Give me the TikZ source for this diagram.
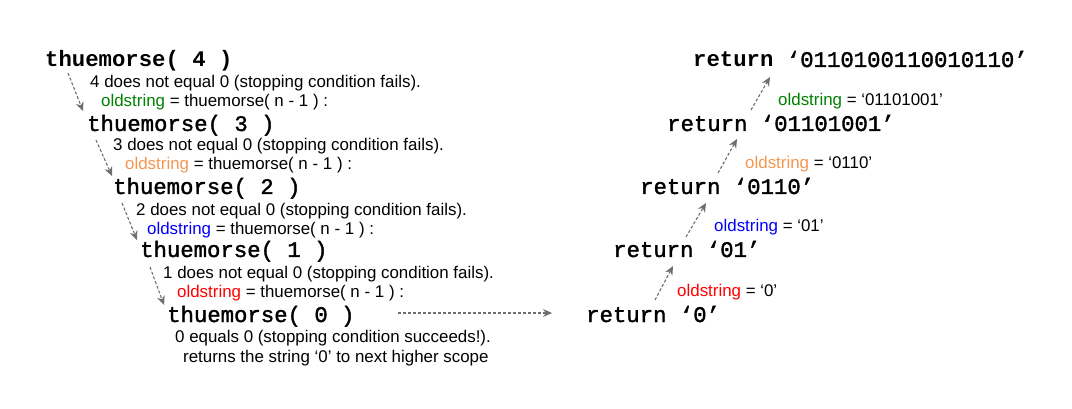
\documentclass[tikz,border=0pt]{standalone}
\usepackage{fontspec}
\setmainfont{Liberation Sans}
\newfontfamily\codefont{Liberation Mono}
\newfontfamily\codemid{Liberation Mono}[FakeBold=1.6]
\usetikzlibrary{arrows.meta}
\definecolor{oldgreen}{RGB}{0,128,0}
\definecolor{oldorange}{RGB}{245,150,80}
\definecolor{oldblue}{RGB}{0,0,255}
\definecolor{oldred}{RGB}{255,0,0}
\definecolor{arrowgray}{RGB}{110,110,110}
\begin{document}
\begin{tikzpicture}
[x=1pt,y=-1pt,
  calldecorate/.style={anchor=base west,inner sep=0pt,font=\fontsize{22.3}{26}\codemid},%
  topdecorate/.style={anchor=base west,inner sep=0pt,font=\fontsize{22.3}{26}\codefont\bfseries},%
  textdecorate/.style={anchor=base west,inner sep=0pt,font=\fontsize{16.9}{20}\selectfont},%
  arrowdecorate/.style={-{Stealth[length=9pt,width=8pt]},draw=arrowgray,
    line width=1.1pt,dash pattern=on 3pt off 2pt}]
\useasboundingbox (0,0) rectangle (1072,409);
%% recursive calls
\node (call4) at (45,67) [topdecorate] {thuemorse( 4 )};
\foreach \nodename/\x/\y/\n in {call3/87/131/3, call2/113/194/2,
  call1/140/257/1, call0/167/322/0} {
  \node (\nodename) at (\x,\y) [calldecorate] {thuemorse( \n{} )};
}
%% stopping condition checks
\foreach \nodename/\x/\y/\n in {fail4/90/88/4, fail3/113/151/3,
  fail2/136/216/2, fail1/163/278/1} {
  \node (\nodename) at (\x,\y) [textdecorate] {\n{} does not equal 0 (stopping condition fails).};
}
\foreach \nodename/\x/\y/\col in {old4/101/107/oldgreen, old3/125/170/oldorange,
  old2/147/234/oldblue, old1/177/298/oldred} {
  \node (\nodename) at (\x,\y) [textdecorate] {\textcolor{\col}{oldstring} = thuemorse( n - 1 ) :};
}
\node (stop) at (175,342) [textdecorate] {0 equals 0 (stopping condition succeeds!).};
\node (back) at (183,362) [textdecorate] {returns the string ‘0’ to next higher scope};
%% returned strings
\node (ret16) at (693,67) [topdecorate] {return {\mdseries\codemid ‘0110100110010110’}};
\foreach \nodename/\x/\y/\s in {ret8/667/131/01101001, ret4/640/194/0110,
  ret2/613/257/01, ret1/586/322/0} {
  \node (\nodename) at (\x,\y) [calldecorate] {return ‘\s’};
}
\foreach \nodename/\x/\y/\col/\s in {got8/778/106/oldgreen/01101001,
  got4/745/169/oldorange/0110, got2/714/232/oldblue/01, got1/677/296/oldred/0} {
  \node (\nodename) at (\x,\y) [textdecorate] {\textcolor{\col}{oldstring} = ‘\s’};
}
%% connector ends
\foreach \name/\x/\y in {d4a/68/73, d4b/83/111, d3a/96/140, d3b/112/176,
  d2a/122/203, d2b/137/240, d1a/150/267, d1b/164/305, hza/398/313, hzb/552/313,
  u1a/655/300, u1b/673/266, u2a/686/237, u2b/706/203, u4a/718/173, u4b/737/139,
  u8a/751/110, u8b/770/77} {
  \coordinate (\name) at (\x,\y);
}
%% connectors
\path
\foreach \startnode/\endnode in {d4a/d4b, d3a/d3b, d2a/d2b, d1a/d1b, hza/hzb,
  u1a/u1b, u2a/u2b, u4a/u4b, u8a/u8b} {
  (\startnode) edge[arrowdecorate] (\endnode)
};
\end{tikzpicture}
\end{document}
